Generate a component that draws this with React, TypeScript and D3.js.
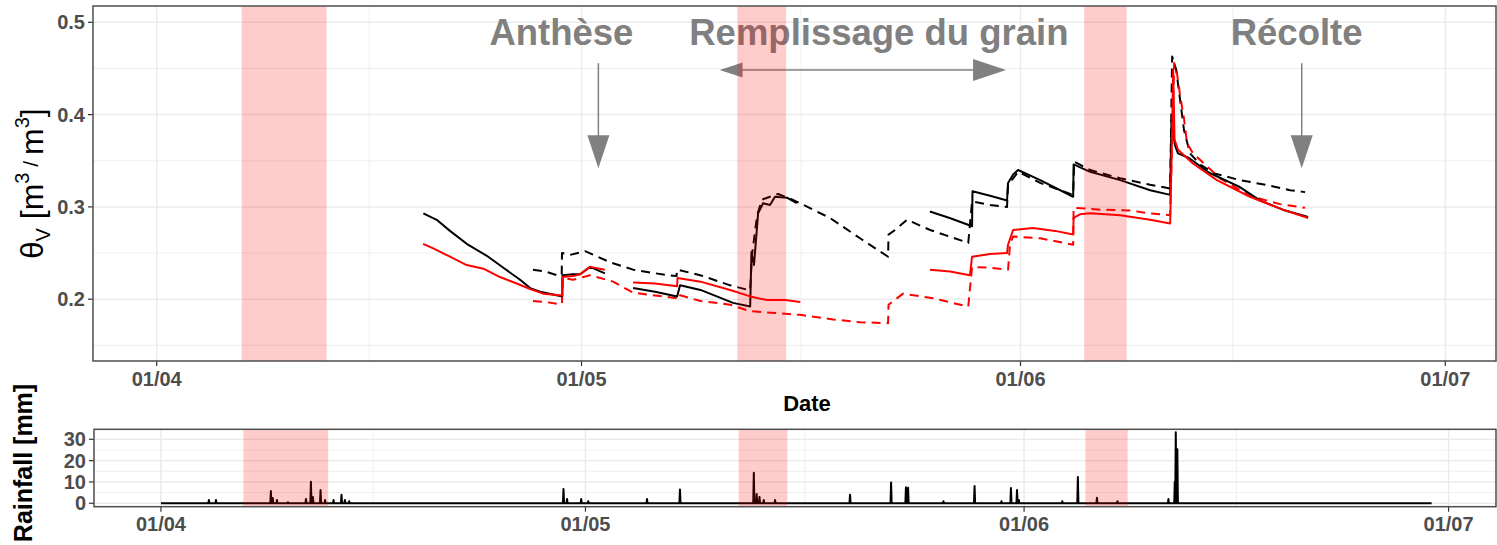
import React, { useEffect, useRef } from "react";
import * as d3 from "d3";

// all times are days since 01/04
const START = Date.UTC(2019, 3, 1);
const toDate = (d: number) => new Date(START + d * 86400000);

const monthLabels = ["01/04", "01/05", "01/06", "01/07"];
const monthDays = [0, 30, 61, 91];
const minorDays = [15, 45.5, 76];

const thetaTicks = [0.2, 0.3, 0.4, 0.5];
const thetaMinor = [0.15, 0.25, 0.35, 0.45];
const rainTicks = [0, 10, 20, 30];
const rainMinor = [5, 15, 25];

// shaded periods
const bandStart = [6, 41, 65.5];
const bandEnd = [12, 44.45, 68.5];

// black solid
const blackSolidDay = [18.83, 19.77, 20.71, 21.89, 23.31, 24.48, 25.66, 26.37, 27.08, 28.64, 28.66, 29.4, 29.9, 30.6, 31.65, 32.5, 33.64, 35.19, 36.75, 36.96, 38.4, 40.7, 41.91, 42.0, 42.18, 42.47, 42.82, 43.31, 43.66, 44.5, 45.2, 50, 54.6, 56.0, 57.58, 57.61, 58.85, 60.05, 60.12, 60.48, 60.83, 62.39, 64.72, 64.75, 65.92, 68.04, 70.16, 71.57, 71.66, 71.91, 72.12, 72.9, 74.32, 76.44, 77.9, 79.7, 81.31];
const blackSolidVal = [0.293, 0.286, 0.274, 0.26, 0.247, 0.234, 0.221, 0.212, 0.208, 0.203, 0.226, 0.227, 0.227, 0.235, 0.228, null, 0.212, 0.208, 0.203, 0.215, 0.21, 0.196, 0.192, 0.251, 0.237, 0.293, 0.304, 0.302, 0.311, 0.31, 0.304, null, 0.295, 0.288, 0.279, 0.317, 0.312, 0.307, 0.326, 0.335, 0.34, 0.329, 0.311, 0.346, 0.338, 0.329, 0.318, 0.313, 0.394, 0.367, 0.358, 0.353, 0.337, 0.322, 0.307, 0.296, 0.289];

// black dashed
const blackDashDay = [26.57, 27.42, 28.27, 28.6, 28.62, 29.19, 30.25, 32.02, 33.64, 36.04, 36.71, 36.75, 38.38, 40.5, 41.77, 41.91, 42.04, 42.4, 42.75, 43.31, 43.88, 44.73, 45.43, 47.55, 49.67, 51.65, 51.68, 52.14, 52.99, 54.62, 57.31, 57.58, 58.85, 60.05, 60.12, 60.48, 60.83, 62.39, 64.72, 64.79, 65.92, 68.04, 70.16, 71.57, 71.71, 71.99, 72.27, 72.55, 72.97, 73.68, 74.74, 76.5, 78.63, 80.04, 81.1];
const blackDashVal = [0.232, 0.23, 0.226, 0.226, 0.25, 0.248, 0.252, 0.24, 0.232, 0.226, 0.225, 0.232, 0.226, 0.215, 0.21, 0.21, 0.248, 0.291, 0.308, 0.311, 0.314, 0.309, 0.304, 0.288, 0.266, 0.246, 0.27, 0.275, 0.286, 0.275, 0.261, 0.306, 0.302, 0.3, 0.324, 0.331, 0.338, 0.326, 0.313, 0.349, 0.34, 0.331, 0.324, 0.32, 0.463, 0.449, 0.416, 0.383, 0.358, 0.346, 0.336, 0.329, 0.323, 0.318, 0.316];

// red solid
const redSolidDay = [18.81, 19.53, 20.71, 21.89, 23.07, 24.24, 25.42, 26.37, 27.3, 28.64, 28.66, 29.4, 29.9, 30.6, 31.65, 32.5, 33.64, 35.19, 36.75, 36.78, 38.4, 40.5, 41.91, 43.11, 44.38, 45.45, 50, 54.61, 56.02, 57.43, 57.58, 58.85, 60.05, 60.12, 60.48, 61.89, 63.44, 64.72, 64.75, 65.2, 65.92, 68.04, 70.16, 71.57, 71.71, 71.78, 71.88, 72.12, 73.18, 74.87, 77.2, 79.53, 81.31];
const redSolidVal = [0.26, 0.255, 0.246, 0.237, 0.233, 0.224, 0.217, 0.211, 0.206, 0.204, 0.224, 0.225, 0.227, 0.235, 0.232, null, 0.218, 0.217, 0.214, 0.223, 0.219, 0.21, 0.203, 0.199, 0.199, 0.197, null, 0.232, 0.23, 0.226, 0.246, 0.249, 0.25, 0.259, 0.275, 0.277, 0.274, 0.27, 0.288, 0.292, 0.293, 0.291, 0.286, 0.282, 0.383, 0.449, 0.373, 0.362, 0.347, 0.329, 0.311, 0.297, 0.288];

// red dashed
const redDashDay = [26.57, 27.42, 28.27, 28.62, 28.66, 29.4, 30.6, 32.23, 33.64, 35.19, 36.75, 36.78, 38.4, 40.5, 41.91, 45.43, 47.76, 49.67, 51.65, 51.68, 52.71, 54.83, 57.31, 57.58, 58.85, 60.12, 60.26, 60.48, 62.39, 64.72, 64.75, 66.66, 68.78, 70.16, 71.57, 71.85, 71.99, 72.27, 72.55, 72.76, 73.18, 73.68, 75.09, 77.2, 79.32, 81.1];
const redDashVal = [0.198, 0.197, 0.195, 0.195, 0.223, 0.221, 0.226, 0.219, 0.207, 0.204, 0.201, 0.205, 0.198, 0.194, 0.187, 0.183, 0.178, 0.175, 0.174, 0.194, 0.206, 0.201, 0.192, 0.235, 0.234, 0.232, 0.259, 0.268, 0.266, 0.259, 0.299, 0.297, 0.296, 0.293, 0.291, 0.456, 0.451, 0.421, 0.395, 0.369, 0.358, 0.351, 0.331, 0.312, 0.303, 0.299];

// rainfall events [mm]
const rainDay = [3.39, 3.89, 7.77, 7.9, 8.2, 8.97, 10.25, 10.6, 10.74, 11.28, 11.6, 12.2, 12.76, 13.0, 13.3, 28.45, 28.7, 29.7, 30.2, 34.35, 36.68, 41.9, 42.1, 42.3, 42.6, 43.4, 48.7, 51.6, 52.65, 52.8, 55.3, 57.5, 59.4, 60.07, 60.5, 60.63, 63.7, 64.8, 66.15, 67.6, 71.2, 71.65, 71.72, 71.83];
const rainMm = [1.5, 1.5, 5.8, 2.5, 1.5, 0.5, 2, 10.1, 3, 6.2, 1.5, 1.5, 4, 1.5, 1, 6.7, 2, 2, 1, 2, 6.5, 14.3, 4.3, 3, 1.5, 1.5, 4, 9.8, 7.5, 7.3, 1, 8.1, 1, 7.2, 6.2, 1.5, 1, 12.3, 2.6, 1, 2, 10.1, 33.3, 25.3];
const rainFirst = 0;
const rainLast = 89.8;

const annotLabels = ["Anthèse", "Remplissage du grain", "Récolte"];
const annotDays = [28.58, 51.0, 80.5];
const annotY = 0.4755;
const downArrowDays = [31.19, 80.86];
const spanArrow = [39.75, 59.98];

const W = 1497;
const H = 545;
const FONT = "'Liberation Sans', Arial, sans-serif";
const GREY = "#808080";

const App = () => {
  const ref = useRef<SVGSVGElement>(null);

  useEffect(() => {
    const svg = d3.select(ref.current);
    svg.selectAll("*").remove();
    svg.attr("width", W).attr("height", H);

    const top = { left: 93, right: 1496, top: 6, bottom: 361 };
    const bot = { left: 94, right: 1496, top: 429.3, bottom: 506.7 };

    const x = d3.scaleUtc().domain([toDate(-4.5), toDate(94.58)]).range([top.left, top.right]);
    const y = d3.scaleLinear().domain([0.133, 0.5177]).range([top.bottom, top.top]);
    const x2 = d3.scaleUtc().domain([toDate(-4.73), toDate(94.35)]).range([bot.left, bot.right]);
    const y2 = d3.scaleLinear().domain([-1.6, 34.7]).range([bot.bottom, bot.top]);

    svg.append("rect").attr("width", W).attr("height", H).attr("fill", "white");

    const panel = (p: any, xs: any, ys: any, majorY: number[], minorY: number[]) => {
      const g = svg.append("g");
      minorY.forEach((v) => {
        g.append("line").attr("x1", p.left).attr("x2", p.right)
          .attr("y1", ys(v)).attr("y2", ys(v))
          .attr("stroke", "#ebebeb").attr("stroke-width", 0.8);
      });
      minorDays.forEach((d) => {
        g.append("line").attr("y1", p.top).attr("y2", p.bottom)
          .attr("x1", xs(toDate(d))).attr("x2", xs(toDate(d)))
          .attr("stroke", "#ebebeb").attr("stroke-width", 0.8);
      });
      majorY.forEach((v) => {
        g.append("line").attr("x1", p.left).attr("x2", p.right)
          .attr("y1", ys(v)).attr("y2", ys(v))
          .attr("stroke", "#ebebeb").attr("stroke-width", 1.5);
      });
      monthDays.forEach((d) => {
        g.append("line").attr("y1", p.top).attr("y2", p.bottom)
          .attr("x1", xs(toDate(d))).attr("x2", xs(toDate(d)))
          .attr("stroke", "#ebebeb").attr("stroke-width", 1.5);
      });
    };

    const axes = (p: any, xs: any, ys: any, majorY: number[], fmt: (v: number) => string, labelY: number) => {
      const g = svg.append("g").attr("font-family", FONT).attr("font-weight", "bold")
        .attr("font-size", 20).attr("fill", "#4d4d4d");
      majorY.forEach((v) => {
        g.append("line").attr("x1", p.left - 5).attr("x2", p.left)
          .attr("y1", ys(v)).attr("y2", ys(v)).attr("stroke", "#333").attr("stroke-width", 1.2);
        g.append("text").attr("x", p.left - 8).attr("y", ys(v) + 7)
          .attr("text-anchor", "end").text(fmt(v));
      });
      monthDays.forEach((d, i) => {
        const px = xs(toDate(d));
        g.append("line").attr("x1", px).attr("x2", px)
          .attr("y1", p.bottom).attr("y2", p.bottom + 5).attr("stroke", "#333").attr("stroke-width", 1.2);
        g.append("text").attr("x", px).attr("y", labelY)
          .attr("text-anchor", "middle").text(monthLabels[i]);
      });
      svg.append("rect")
        .attr("x", p.left).attr("y", p.top)
        .attr("width", p.right - p.left).attr("height", p.bottom - p.top)
        .attr("fill", "none").attr("stroke", "#4d4d4d").attr("stroke-width", 1.5);
    };

    const bands = (p: any, xs: any, shift: number) => {
      bandStart.forEach((s, i) => {
        svg.append("rect")
          .attr("x", xs(toDate(s)) + shift).attr("y", p.top)
          .attr("width", xs(toDate(bandEnd[i])) - xs(toDate(s)))
          .attr("height", p.bottom - p.top)
          .attr("fill", "red").attr("fill-opacity", 0.2);
      });
    };

    // ---- top panel
    panel(top, x, y, thetaTicks, thetaMinor);

    const line = d3.line<[number, number | null]>()
      .defined((d) => d[1] != null)
      .x((d) => x(toDate(d[0])))
      .y((d) => y(d[1] as number));

    const series = [
      { days: blackDashDay, vals: blackDashVal, color: "black", dash: "9,6" },
      { days: redDashDay, vals: redDashVal, color: "red", dash: "9,6" },
      { days: blackSolidDay, vals: blackSolidVal, color: "black", dash: null },
      { days: redSolidDay, vals: redSolidVal, color: "red", dash: null },
    ];
    series.forEach((s) => {
      const pts = s.days.map((d, i) => [d, s.vals[i]] as [number, number | null]);
      svg.append("path")
        .attr("d", line(pts))
        .attr("fill", "none")
        .attr("stroke", s.color)
        .attr("stroke-width", 2)
        .attr("stroke-dasharray", s.dash)
        .attr("stroke-linejoin", "round");
    });

    // annotations
    const ann = svg.append("g").attr("font-family", FONT).attr("font-weight", "bold")
      .attr("font-size", 36.5).attr("fill", GREY);
    annotLabels.forEach((t, i) => {
      ann.append("text").attr("x", x(toDate(annotDays[i]))).attr("y", y(annotY))
        .attr("text-anchor", "middle").text(t);
    });
    downArrowDays.forEach((d) => {
      const px = x(toDate(d));
      const y0 = y(0.4557);
      const y1 = y(0.342);
      ann.append("line").attr("x1", px).attr("x2", px).attr("y1", y0).attr("y2", y1 - 20)
        .attr("stroke", GREY).attr("stroke-width", 1.5);
      ann.append("path")
        .attr("d", `M${px - 11},${y1 - 33}L${px + 11},${y1 - 33}L${px},${y1}Z`)
        .attr("fill", GREY);
    });
    {
      const ay = y(0.4484);
      const xa = x(toDate(spanArrow[0]));
      const xb = x(toDate(spanArrow[1]));
      ann.append("line").attr("x1", xa + 10).attr("x2", xb - 10).attr("y1", ay).attr("y2", ay)
        .attr("stroke", GREY).attr("stroke-width", 1.5);
      ann.append("path").attr("d", `M${xa},${ay}L${xa + 23},${ay - 7.5}L${xa + 23},${ay + 7.5}Z`).attr("fill", GREY);
      ann.append("path").attr("d", `M${xb},${ay}L${xb - 33},${ay - 11}L${xb - 33},${ay + 11}Z`).attr("fill", GREY);
    }

    bands(top, x, 0);
    axes(top, x, y, thetaTicks, (v) => d3.format(".1f")(v), 385.7);

    // y title (top)
    const yt = svg.append("text")
      .attr("transform", `translate(43,${(top.top + top.bottom) / 2}) rotate(-90)`)
      .attr("text-anchor", "middle").attr("font-family", FONT).attr("fill", "black");
    yt.append("tspan").attr("font-size", 31).text("θ");
    yt.append("tspan").attr("font-size", 20).attr("dy", 7).text("V");
    yt.append("tspan").attr("font-size", 32).attr("dy", -7).text(" [m");
    yt.append("tspan").attr("font-size", 20).attr("dy", -14).text("3");
    yt.append("tspan").attr("font-size", 21).attr("dy", 9).text(" / ");
    yt.append("tspan").attr("font-size", 32).attr("dy", 5).text("m");
    yt.append("tspan").attr("font-size", 20).attr("dy", -14).text("3");
    yt.append("tspan").attr("font-size", 32).attr("dy", 14).text("]");

    svg.append("text").attr("x", 807).attr("y", 411).attr("text-anchor", "middle")
      .attr("font-family", FONT).attr("font-weight", "bold").attr("font-size", 22)
      .attr("fill", "black").text("Date");

    // ---- bottom panel: rainfall
    panel(bot, x2, y2, rainTicks, rainMinor);
    const rainPts: [number, number][] = [[rainFirst, 0]];
    rainDay.forEach((d, i) => {
      rainPts.push([d - 0.04, 0], [d, rainMm[i]], [d + 0.04, 0]);
    });
    rainPts.push([rainLast, 0]);
    const rainLine = d3.line<[number, number]>()
      .x((d) => x2(toDate(d[0])))
      .y((d) => y2(d[1]));
    svg.append("path").attr("d", rainLine(rainPts))
      .attr("fill", "none").attr("stroke", "black").attr("stroke-width", 2)
      .attr("stroke-linejoin", "round");
    bands(bot, x2, -2.5);
    axes(bot, x2, y2, rainTicks, (v) => String(v), 530.7);

    svg.append("text")
      .attr("transform", `translate(32,463) rotate(-90)`)
      .attr("text-anchor", "middle").attr("font-family", FONT).attr("font-weight", "bold")
      .attr("font-size", 25).attr("fill", "black").text("Rainfall [mm]");
  }, []);

  return (
    <svg ref={ref} style={{ position: "absolute", left: 0, top: 0, display: "block" }}></svg>
  );
};

export default App;
